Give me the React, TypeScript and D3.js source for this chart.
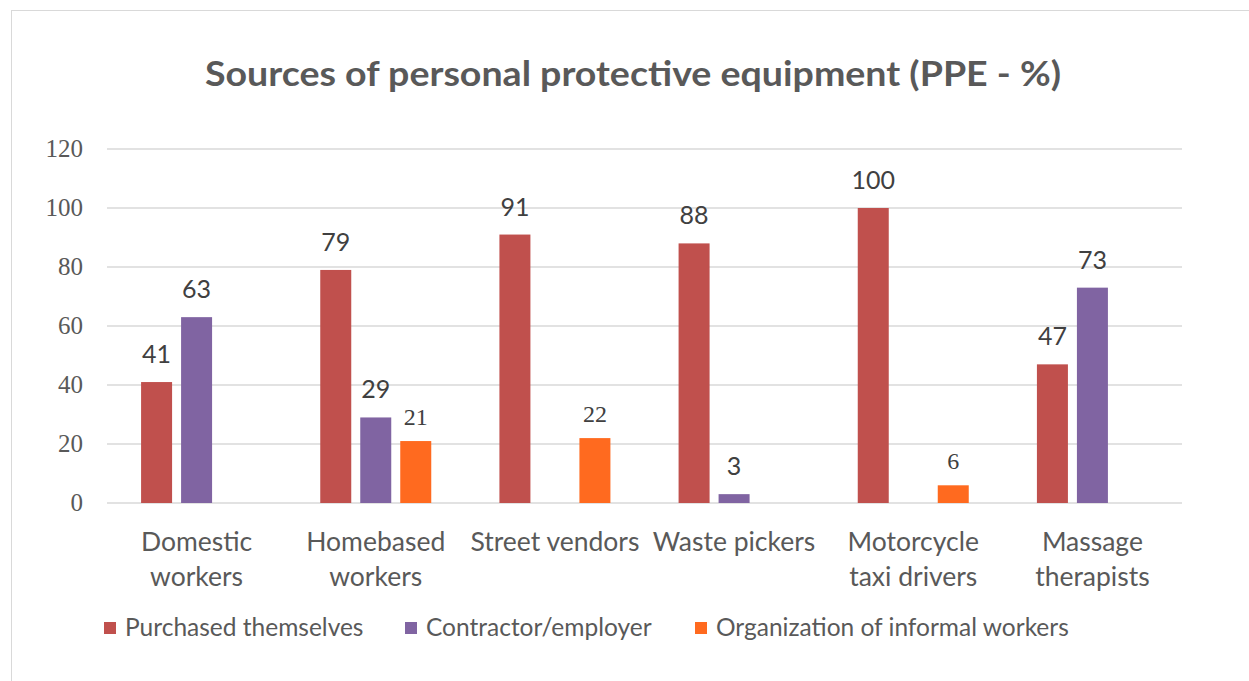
import React from "react";
import * as d3 from "d3";

const categories = [
  ["Domestic", "workers"],
  ["Homebased", "workers"],
  ["Street vendors"],
  ["Waste pickers"],
  ["Motorcycle", "taxi drivers"],
  ["Massage", "therapists"],
];
const seriesNames = ["Purchased themselves", "Contractor/employer", "Organization of informal workers"];
const purchased: (number | null)[] = [41, 79, 91, 88, 100, 47];
const contractor: (number | null)[] = [63, 29, null, 3, null, 73];
const organization: (number | null)[] = [null, 21, 22, null, 6, null];
const colors = ["#C0504D", "#8064A2", "#FF6A1F"];
const yTicks = [0, 20, 40, 60, 80, 100, 120];

export default function App() {
  const W = 1249, H = 681;
  const left = 107, right = 1182, top = 149, bottom = 503;
  const x = d3.scaleBand<number>().domain(d3.range(categories.length)).range([left, right]).paddingInner(0).paddingOuter(0);
  const y = d3.scaleLinear().domain([0, 120]).range([bottom, top]);
  const series = [purchased, contractor, organization];
  const barW = 31, step = 40;
  const sx = d3.scaleLinear().domain([0, 2]).range([-step, step]);
  const sans = "Lato, 'Open Sans', sans-serif";
  const serif = "'Liberation Serif', serif";

  return (
    <svg width={W} height={H} style={{ position: "absolute", left: 0, top: 0, background: "#fff" }}>
      <rect x={11.5} y={10.5} width={1260} height={700} fill="#fff" stroke="#D9D9D9" strokeWidth={1} />
      <text x={633} y={86} textAnchor="middle" fontFamily={sans} fontWeight="bold" fontSize={35} fill="#595959" textLength={856} lengthAdjust="spacingAndGlyphs">
        Sources of personal protective equipment (PPE - %)
      </text>
      {yTicks.map((t) => (
        <g key={t}>
          <line x1={left} x2={right} y1={y(t)} y2={y(t)} stroke="#D9D9D9" strokeWidth={1.5} />
          <text x={83} y={y(t) + 8} textAnchor="end" fontFamily={serif} fontSize={25} fill="#595959">{t}</text>
        </g>
      ))}
      {series.map((vals, si) =>
        vals.map((v, ci) => {
          if (v === null) return null;
          const cx = (x(ci) as number) + x.bandwidth() / 2 + sx(si);
          const isOrange = si === 2;
          return (
            <g key={`${si}-${ci}`}>
              <rect x={cx - barW / 2} y={y(v)} width={barW} height={y(0) - y(v)} fill={colors[si]} />
              <text x={cx} y={y(v) - (isOrange ? 16 : 19)} textAnchor="middle"
                fontFamily={isOrange ? serif : sans}
                fontSize={isOrange ? 24 : 25} fill="#404040">{v}</text>
            </g>
          );
        })
      )}
      {categories.map((lines, ci) => (
        <text key={ci} textAnchor="middle" fontFamily={sans} fontSize={26.5} fill="#595959">
          {lines.map((l, li) => (
            <tspan key={li} x={(x(ci) as number) + x.bandwidth() / 2} y={551 + li * 35}>{l}</tspan>
          ))}
        </text>
      ))}
      {seriesNames.map((n, i) => {
        const lx = [104, 405, 695][i];
        return (
          <g key={n}>
            <rect x={lx} y={622} width={12} height={12} fill={colors[i]} />
            <text x={lx + 21} y={636} fontFamily={sans} fontSize={24.5} fill="#595959">{n}</text>
          </g>
        );
      })}
    </svg>
  );
}
